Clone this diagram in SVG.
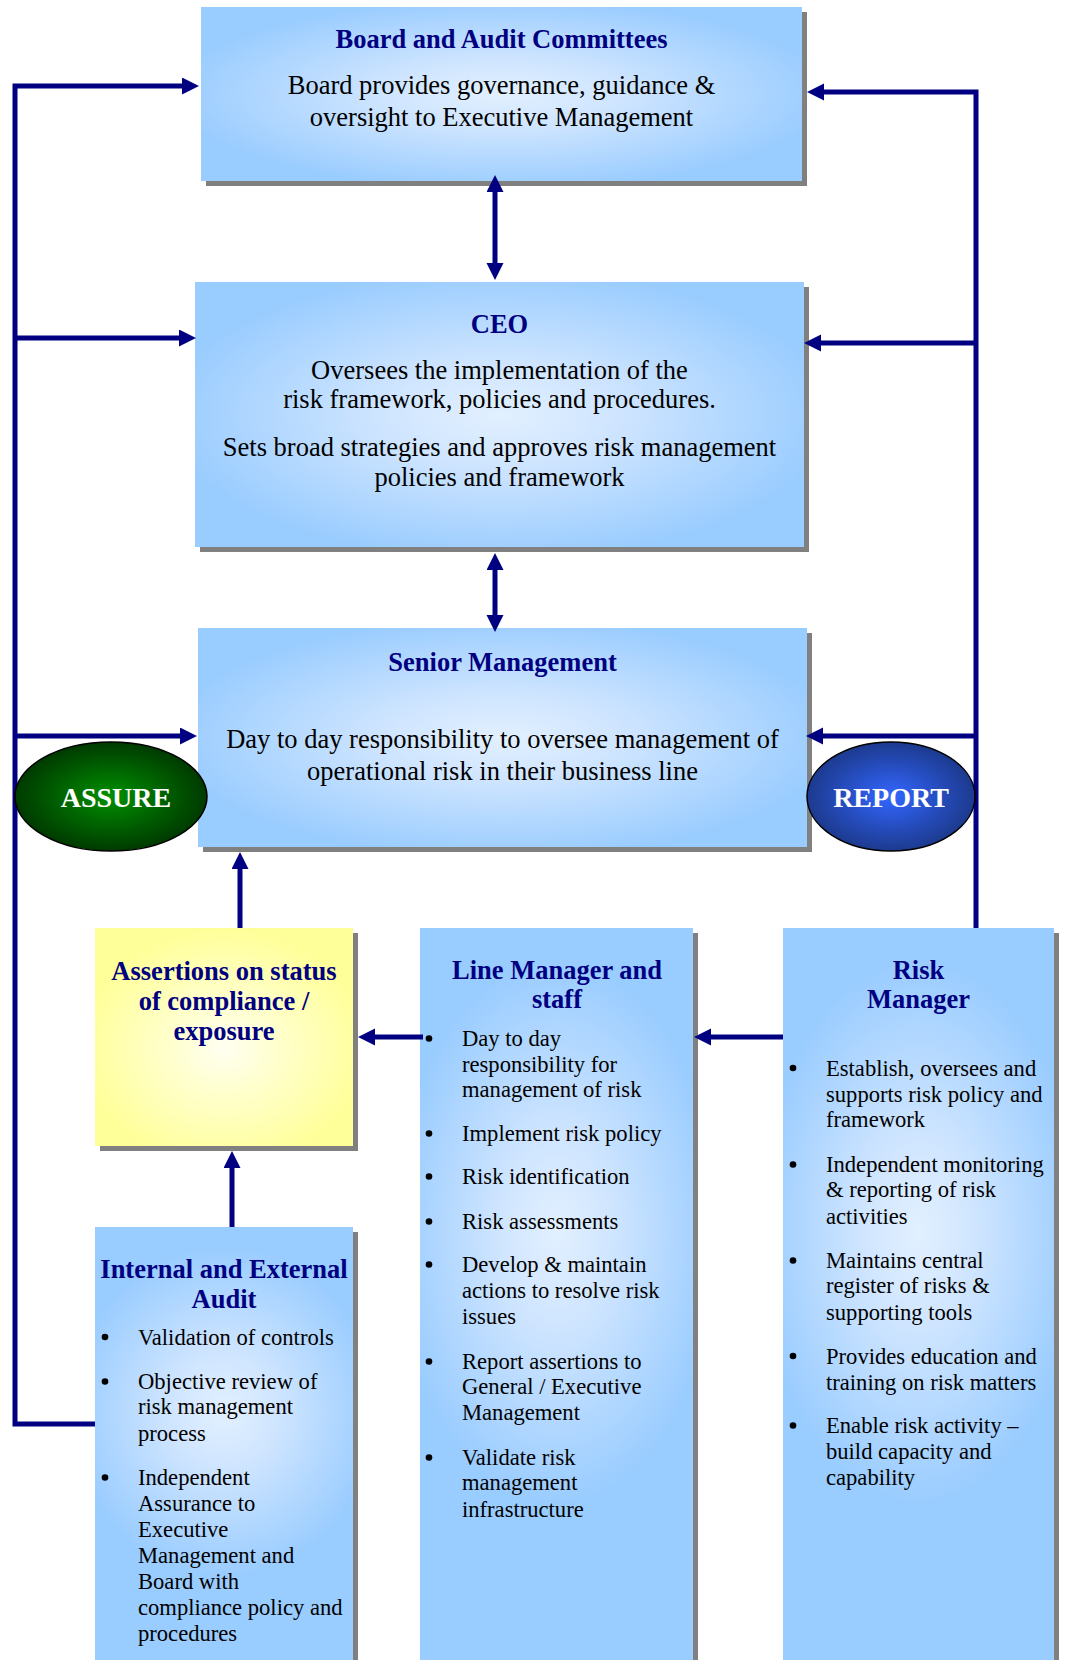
<svg xmlns="http://www.w3.org/2000/svg" width="1065" height="1660" viewBox="0 0 1065 1660">
  <defs>
    <radialGradient id="gBlue" cx="0.5" cy="0.5" r="0.55">
      <stop offset="0" stop-color="#E2F0FF"/>
      <stop offset="0.35" stop-color="#CFE5FF"/>
      <stop offset="1" stop-color="#99CCFF"/>
    </radialGradient>
    <radialGradient id="gCol" cx="0.5" cy="0.4" r="0.6" gradientTransform="translate(0.5 0.4) scale(1 0.6) translate(-0.5 -0.4)">
      <stop offset="0" stop-color="#E2F0FF"/>
      <stop offset="0.35" stop-color="#CFE5FF"/>
      <stop offset="1" stop-color="#99CCFF"/>
    </radialGradient>
    <radialGradient id="gYellow" cx="0.5" cy="0.55" r="0.55">
      <stop offset="0" stop-color="#FFFFF2"/>
      <stop offset="0.35" stop-color="#FFFFD0"/>
      <stop offset="1" stop-color="#FFFF99"/>
    </radialGradient>
    <radialGradient id="gGreen" cx="0.5" cy="0.5" r="0.5">
      <stop offset="0" stop-color="#009000"/>
      <stop offset="1" stop-color="#003A00"/>
    </radialGradient>
    <radialGradient id="gNavy" cx="0.5" cy="0.5" r="0.5">
      <stop offset="0" stop-color="#3366FF"/>
      <stop offset="1" stop-color="#1C3A8E"/>
    </radialGradient>
    <marker id="head" markerUnits="userSpaceOnUse" markerWidth="18" markerHeight="18" refX="7" refY="8.5" orient="auto-start-reverse">
      <path d="M0,0 L17,8.5 L0,17 Z" fill="#000080"/>
    </marker>
    <style>
      .shadow { fill: #808080; }
      .blue { fill: url(#gBlue); }
      .col { fill: url(#gCol); }
      .yellow { fill: url(#gYellow); }
      .title { font-family: "Liberation Serif", "Times New Roman", serif; font-size: 26.5px; font-weight: bold; fill: #000080; text-anchor: middle; }
      .body { font-family: "Liberation Serif", "Times New Roman", serif; font-size: 26.5px; fill: #000000; text-anchor: middle; }
      .item { font-family: "Liberation Serif", "Times New Roman", serif; font-size: 22.6px; fill: #000000; }
      .dot { fill: #000000; }
      .wire { fill: none; stroke: #000080; stroke-width: 5; stroke-linejoin: miter; }
      .badge { font-family: "Liberation Serif", "Times New Roman", serif; font-size: 28px; font-weight: bold; fill: #FFFFFF; text-anchor: middle; }
    </style>
  </defs>

  <rect width="1065" height="1660" fill="#FFFFFF"/>

  <!-- Board and Audit Committees -->
  <g id="board">
    <rect class="shadow" x="206" y="12" width="601" height="174"/>
    <rect class="blue" x="201" y="7" width="601" height="174"/>
    <text class="title" x="501.5" y="48">Board and Audit Committees</text>
    <text class="body" x="501.5" y="94">Board provides governance, guidance &amp;</text>
    <text class="body" x="501.5" y="126">oversight to Executive Management</text>
  </g>

  <!-- CEO -->
  <g id="ceo">
    <rect class="shadow" x="200" y="287" width="609" height="265"/>
    <rect class="blue" x="195" y="282" width="609" height="265"/>
    <text class="title" x="499.5" y="333">CEO</text>
    <text class="body" x="499.5" y="379">Oversees the implementation of the</text>
    <text class="body" x="499.5" y="408">risk framework, policies and procedures.</text>
    <text class="body" x="499.5" y="456">Sets broad strategies and approves risk management</text>
    <text class="body" x="499.5" y="486">policies and framework</text>
  </g>

  <!-- Senior Management -->
  <g id="senior">
    <rect class="shadow" x="203" y="633" width="609" height="219"/>
    <rect class="blue" x="198" y="628" width="609" height="219"/>
    <text class="title" x="502.5" y="671">Senior Management</text>
    <text class="body" x="502.5" y="748">Day to day responsibility to oversee management of</text>
    <text class="body" x="502.5" y="780">operational risk in their business line</text>
  </g>

  <!-- Assertions -->
  <g id="assertions">
    <rect class="shadow" x="100" y="933" width="258" height="218"/>
    <rect class="yellow" x="95" y="928" width="258" height="218"/>
    <text class="title" x="224" y="980">Assertions on status</text>
    <text class="title" x="224" y="1010">of compliance /</text>
    <text class="title" x="224" y="1040">exposure</text>
  </g>

  <!-- Line Manager and staff -->
  <g id="line-manager">
    <rect class="shadow" x="425" y="933" width="273" height="760"/>
    <rect class="col" x="420" y="928" width="273" height="760"/>
    <text class="title" x="557" y="979">Line Manager and</text>
    <text class="title" x="557" y="1008">staff</text>
    <g class="dot">
      <circle cx="429" cy="1038.5" r="3.3"/>
      <circle cx="429" cy="1133.5" r="3.3"/>
      <circle cx="429" cy="1176.5" r="3.3"/>
      <circle cx="429" cy="1221.5" r="3.3"/>
      <circle cx="429" cy="1264.5" r="3.3"/>
      <circle cx="429" cy="1361.5" r="3.3"/>
      <circle cx="429" cy="1457.5" r="3.3"/>
    </g>
    <text class="item" x="462" y="1046">Day to day</text>
    <text class="item" x="462" y="1072">responsibility for</text>
    <text class="item" x="462" y="1097">management of risk</text>
    <text class="item" x="462" y="1141">Implement risk policy</text>
    <text class="item" x="462" y="1184">Risk identification</text>
    <text class="item" x="462" y="1229">Risk assessments</text>
    <text class="item" x="462" y="1272">Develop &amp; maintain</text>
    <text class="item" x="462" y="1298">actions to resolve risk</text>
    <text class="item" x="462" y="1324">issues</text>
    <text class="item" x="462" y="1369">Report assertions to</text>
    <text class="item" x="462" y="1394">General / Executive</text>
    <text class="item" x="462" y="1420">Management</text>
    <text class="item" x="462" y="1465">Validate risk</text>
    <text class="item" x="462" y="1490">management</text>
    <text class="item" x="462" y="1517">infrastructure</text>
  </g>

  <!-- Risk Manager -->
  <g id="risk-manager">
    <rect class="shadow" x="788" y="933" width="271" height="760"/>
    <rect class="col" x="783" y="928" width="271" height="760"/>
    <text class="title" x="918.5" y="979">Risk</text>
    <text class="title" x="918.5" y="1008">Manager</text>
    <g class="dot">
      <circle cx="793" cy="1068" r="3.3"/>
      <circle cx="793" cy="1164.5" r="3.3"/>
      <circle cx="793" cy="1260.5" r="3.3"/>
      <circle cx="793" cy="1356" r="3.3"/>
      <circle cx="793" cy="1425.5" r="3.3"/>
    </g>
    <text class="item" x="826" y="1075.5">Establish, oversees and</text>
    <text class="item" x="826" y="1102">supports risk policy and</text>
    <text class="item" x="826" y="1127">framework</text>
    <text class="item" x="826" y="1172">Independent monitoring</text>
    <text class="item" x="826" y="1197">&amp; reporting of risk</text>
    <text class="item" x="826" y="1223.5">activities</text>
    <text class="item" x="826" y="1268">Maintains central</text>
    <text class="item" x="826" y="1293">register of risks &amp;</text>
    <text class="item" x="826" y="1320">supporting tools</text>
    <text class="item" x="826" y="1363.5">Provides education and</text>
    <text class="item" x="826" y="1390">training on risk matters</text>
    <text class="item" x="826" y="1433">Enable risk activity –</text>
    <text class="item" x="826" y="1459">build capacity and</text>
    <text class="item" x="826" y="1485">capability</text>
  </g>

  <!-- Internal and External Audit -->
  <g id="audit">
    <rect class="shadow" x="100" y="1232" width="258" height="460"/>
    <rect class="col" x="95" y="1227" width="258" height="460"/>
    <text class="title" x="224" y="1277.5">Internal and External</text>
    <text class="title" x="224" y="1308">Audit</text>
    <g class="dot">
      <circle cx="105" cy="1337" r="3.3"/>
      <circle cx="105" cy="1381.5" r="3.3"/>
      <circle cx="105" cy="1477.5" r="3.3"/>
    </g>
    <text class="item" x="138" y="1344.5">Validation of controls</text>
    <text class="item" x="138" y="1389">Objective review of</text>
    <text class="item" x="138" y="1414">risk management</text>
    <text class="item" x="138" y="1441">process</text>
    <text class="item" x="138" y="1485">Independent</text>
    <text class="item" x="138" y="1510.5">Assurance to</text>
    <text class="item" x="138" y="1537">Executive</text>
    <text class="item" x="138" y="1562.5">Management and</text>
    <text class="item" x="138" y="1589">Board with</text>
    <text class="item" x="138" y="1614.5">compliance policy and</text>
    <text class="item" x="138" y="1641">procedures</text>
  </g>

  <!-- Connectors -->
  <g id="connectors">
    <!-- assurance loop on the left -->
    <path class="wire" d="M95,1424 H15 V86 H189" marker-end="url(#head)"/>
    <path class="wire" d="M15,338 H186" marker-end="url(#head)"/>
    <path class="wire" d="M15,736 H187" marker-end="url(#head)"/>
    <!-- reporting loop on the right -->
    <path class="wire" d="M976,928 V92 H817" marker-end="url(#head)"/>
    <path class="wire" d="M976,343 H814" marker-end="url(#head)"/>
    <path class="wire" d="M976,736 H816" marker-end="url(#head)"/>
    <!-- two-way links down the centre -->
    <path class="wire" d="M495,185 V270" marker-start="url(#head)" marker-end="url(#head)"/>
    <path class="wire" d="M495,563 V622" marker-start="url(#head)" marker-end="url(#head)"/>
    <!-- flows between the lower boxes -->
    <path class="wire" d="M240,928 V862" marker-end="url(#head)"/>
    <path class="wire" d="M232,1227 V1161" marker-end="url(#head)"/>
    <path class="wire" d="M423,1037 H368" marker-end="url(#head)"/>
    <path class="wire" d="M783,1037 H704" marker-end="url(#head)"/>
  </g>

  <!-- ASSURE badge -->
  <g id="assure">
    <ellipse cx="111" cy="796.5" rx="96" ry="54.5" fill="url(#gGreen)" stroke="#000000" stroke-width="1.5"/>
    <text class="badge" x="116" y="807">ASSURE</text>
  </g>

  <!-- REPORT badge -->
  <g id="report">
    <ellipse cx="891" cy="796.5" rx="84" ry="54.5" fill="url(#gNavy)" stroke="#000000" stroke-width="1.5"/>
    <text class="badge" x="891" y="807">REPORT</text>
  </g>
</svg>
